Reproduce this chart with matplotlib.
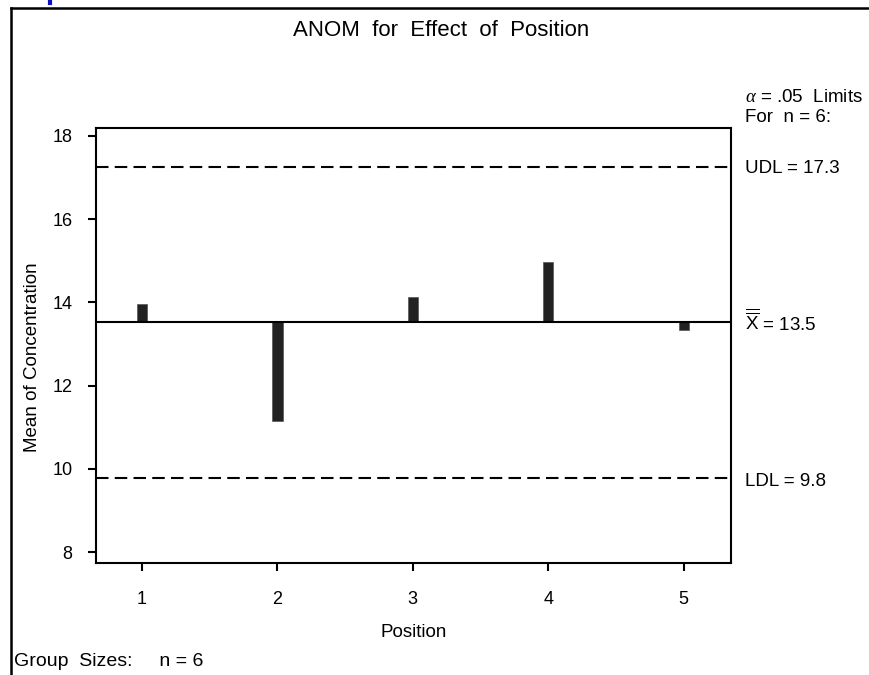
import matplotlib
matplotlib.use("Agg")
import matplotlib.pyplot as plt
from matplotlib.lines import Line2D

plt.rcParams['font.family'] = ['Liberation Sans', 'DejaVu Sans']
plt.rcParams['mathtext.fontset'] = 'custom'
plt.rcParams['mathtext.rm'] = 'Liberation Sans'
plt.rcParams['mathtext.it'] = 'Liberation Serif:italic'

positions = [1, 2, 3, 4, 5]
means = [13.96, 11.15, 14.13, 14.97, 13.34]
center = 13.52
udl = 17.25
ldl = 9.78
yticks = [8, 10, 12, 14, 16, 18]

fig = plt.figure(figsize=(8.7, 6.75), dpi=100)
ax = fig.add_axes([96/870, 1-563/675, (731-96)/870, (563-128)/675])

for p, m in zip(positions, means):
    ax.bar(p, m - center, bottom=center, width=0.075, color='#222222', edgecolor='#555555', linewidth=0.5, zorder=3)

ax.axhline(center, color='black', linewidth=1.5, zorder=4)
ax.axhline(udl, color='black', linewidth=1.5, linestyle=(0, (6, 3)))
ax.axhline(ldl, color='black', linewidth=1.5, linestyle=(0, (6, 3)))

ax.set_xlim(0.66, 5.35)
ax.set_ylim(7.74, 18.19)
ax.set_yticks(yticks)
ax.set_xticks(positions)
ax.tick_params(axis='both', direction='out', length=6, width=1.5, labelsize=13)
ax.tick_params(axis='x', pad=14)
ax.tick_params(axis='y', pad=11)
for s in ax.spines.values():
    s.set_linewidth(1.5)

ax.set_xlabel('Position', fontsize=13.5, labelpad=12)
ax.set_ylabel('Mean of Concentration', fontsize=13.5)
ax.yaxis.set_label_coords(-0.087, 0.474)

fig.text(441/870, 1-30/675, 'ANOM  for  Effect  of  Position', ha='center', va='center', fontsize=16)

tx = 745/870
fs = 13.5
fig.text(tx, 1-97/675, r'$\alpha$ = .05  Limits', ha='left', va='center', fontsize=fs)
fig.text(tx, 1-117/675, 'For  n = 6:', ha='left', va='center', fontsize=fs)
fig.text(tx, 1-168/675, 'UDL = 17.3', ha='left', va='center', fontsize=fs)
fig.text(tx, 1-322/675, r'$\overline{\overline{\mathrm{X}}}$ = 13.5', ha='left', va='center', fontsize=fs)
fig.text(tx, 1-482/675, 'LDL = 9.8', ha='left', va='center', fontsize=fs)
fig.text(14/870, 1-662/675, 'Group  Sizes:     n = 6', ha='left', va='center', fontsize=14)

# outer frame
fig.add_artist(Line2D([11/870, 11/870], [0, 1-8/675], transform=fig.transFigure, color='black', linewidth=1.8))
fig.add_artist(Line2D([11/870, 1], [1-8/675, 1-8/675], transform=fig.transFigure, color='black', linewidth=1.8))
fig.add_artist(Line2D([50/870, 50/870], [1, 1-3/675], transform=fig.transFigure, color='#1010c0', linewidth=3))

fig.savefig('out.png', dpi=100)
